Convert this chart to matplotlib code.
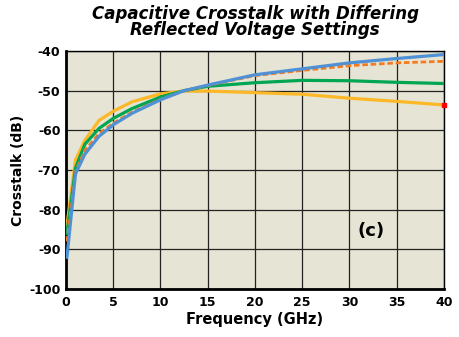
import matplotlib.pyplot as plt

# frequency points (GHz)
freq = [0.1, 1, 2, 3.5, 5, 7, 10, 12.5, 15, 20, 25, 30, 35, 40]

blue = [-92, -71, -66, -61.5, -58.6, -55.7, -52.3, -50.0, -48.6, -46.0, -44.5, -43.0, -41.9, -40.9]
orange = [-88, -70.5, -65, -60.8, -58.2, -55.4, -52.2, -50.0, -48.7, -46.2, -44.9, -43.7, -43.0, -42.6]
green = [-86, -69.5, -63.5, -59.5, -57.0, -54.5, -51.6, -50.0, -48.9, -48.0, -47.4, -47.5, -47.9, -48.2]
yellow = [-84, -67.5, -62.5, -57.5, -55.2, -52.8, -50.8, -50.1, -50.1, -50.5, -50.9, -51.9, -52.7, -53.6]

xticks = [0, 5, 10, 15, 20, 25, 30, 35, 40]
yticks = [-100, -90, -80, -70, -60, -50, -40]

plt.rcParams['font.family'] = ['DejaVu Sans']
plt.rcParams['axes.unicode_minus'] = False

fig = plt.figure(figsize=(4.59, 3.37), dpi=100)
ax = fig.add_axes([0.1438, 0.1424, 0.8232, 0.7063])
ax.set_facecolor('#e6e4d4')

ax.plot(freq, yellow, color='#fdb827', lw=2.3, zorder=3)
ax.plot(freq, green, color='#00a651', lw=2.3, zorder=4)
ax.plot(freq, orange, color='#f47b20', lw=2.0, ls=(0, (2, 1)), zorder=5)
ax.plot(freq, blue, color='#4f91d4', lw=2.3, zorder=6)
ax.plot([40], [yellow[-1]], 's', color='red', ms=2.5, zorder=7, clip_on=False)

ax.set_xlim(0, 40)
ax.set_ylim(-100, -40)
ax.set_xticks(xticks)
ax.set_yticks(yticks)
ax.tick_params(length=0, labelsize=9)
ax.tick_params(axis='x', pad=5)
ax.tick_params(axis='y', pad=4)
for lab in ax.get_xticklabels() + ax.get_yticklabels():
    lab.set_fontweight('bold')
ax.grid(True, color='#222222', lw=0.9)
ax.set_axisbelow(True)
for s in ['left', 'bottom']:
    ax.spines[s].set_linewidth(2)
for s in ['top', 'right']:
    ax.spines[s].set_linewidth(1)

ax.set_xlabel('Frequency (GHz)', fontsize=10.5, fontweight='bold', labelpad=2)
ax.set_ylabel('Crosstalk (dB)', fontsize=10, fontweight='bold', labelpad=3)
fig.text(0.556, 0.985, 'Capacitive Crosstalk with Differing\nReflected Voltage Settings',
         fontsize=12, fontweight='bold', style='italic', linespacing=0.88,
         ha='center', va='top')
ax.text(32.3, -85.3, '(c)', fontsize=13, fontweight='bold', ha='center', va='center')

fig.savefig('out.png', dpi=100)
